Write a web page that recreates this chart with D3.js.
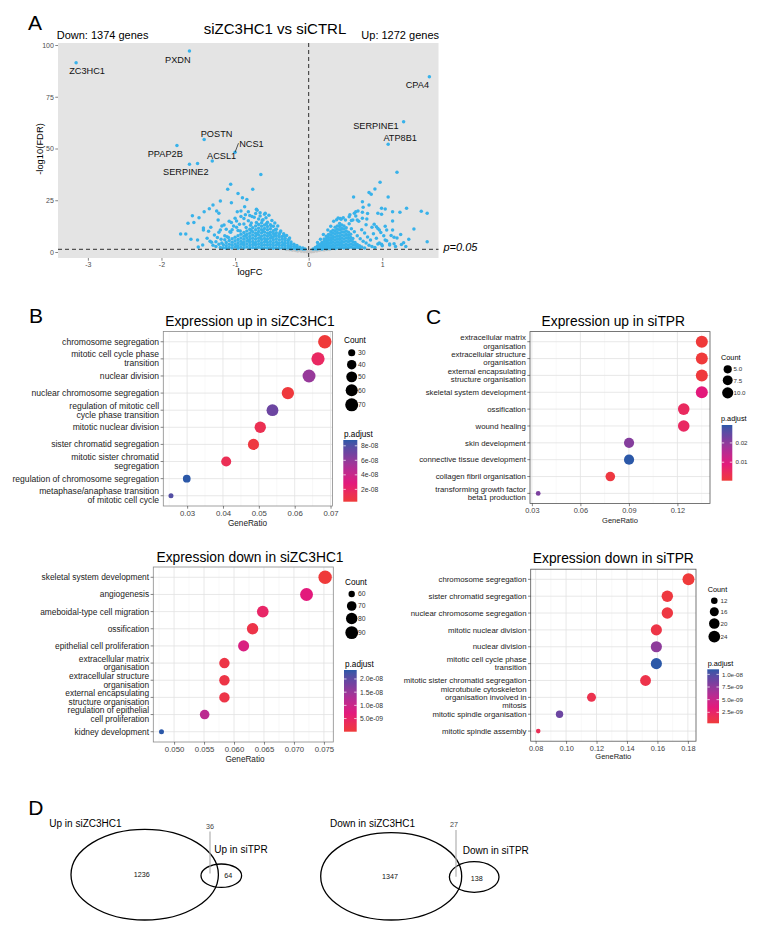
<!DOCTYPE html>
<html><head><meta charset="utf-8">
<script src="https://cdn.jsdelivr.net/npm/d3@7"></script>
<style>body{margin:0;background:#fff}svg{display:block}</style>
</head><body><svg id="fig" width="762" height="934"></svg>
<script>
// ================= DATA =================
// ---- Panel A : volcano ----
const volcanoTitle = "siZC3HC1 vs siCTRL";
const downText = "Down: 1374 genes", upText = "Up: 1272 genes";
const volcanoXTicks = [-3, -2, -1, 0, 1];
const volcanoYTicks = [0, 25, 50, 75, 100];
const volcanoXDomain = [-3.406, 1.764];
const volcanoYDomain = [-2.9, 100.97];
const fdrThreshold = 1.3; // -log10(0.05)
const labeledGenes = ["ZC3HC1","PXDN","CPA4","SERPINE1","ATP8B1","POSTN","NCS1","ACSL1","PPAP2B","SERPINE2"];
const labeledLogFC = [-3.16,-1.62,1.64,1.29,1.08,-1.42,-1.00,-1.31,-1.79,-1.62];
const labeledFDR   = [91.4,97.1,84.7,62.9,52.0,54.3,48.2,44.0,51.5,42.4];
const downGenes = [
[-1.51,42.8],[-0.65,37.5],[-1.06,32.7],[-1.10,30.3],[-0.96,28.3],[-0.76,30.3],[-0.90,26.2],[-0.84,25.4],[-1.20,24.6],[-1.05,23.8],[-1.30,22.7],[-1.35,20.9],[-1.42,19.5],[-1.25,19.8],[-1.22,18.7],[-0.97,19.5],[-1.58,17.5],[-1.49,16.6],[-1.56,14.2],[-1.64,13.9],[-1.43,11.6],[-1.43,10.6],[-1.36,10.0],[-1.33,11.9],[-1.74,8.7],[-1.67,8.7],[-1.60,6.1],[-1.51,5.8],[-1.32,4.7],[-1.19,6.1],[-1.23,15.5],[-1.15,13.0],[-1.20,10.6],[-1.05,14.2],[-1.00,16.3],[-0.92,17.1],[-0.87,21.9],[-0.82,19.5],[-0.71,20.6],[-0.66,19.0],[-0.59,18.7],[-0.77,17.1],[-1.07,9.8],[-0.98,11.9],[-0.88,13.5],[-1.11,7.4],
[-1.28,8.2],[-1.22,9.5],[-1.18,12.5],[-1.12,11.0],[-1.08,14.8],[-1.02,12.6],[-0.98,15.0],[-0.94,13.4],[-0.92,19.8],[-0.88,16.2],[-0.86,18.0],[-0.82,15.1],[-0.80,17.6],[-0.78,14.0],[-0.74,16.8],[-0.72,18.6],[-0.70,20.2],[-0.68,16.0],[-0.66,17.4],[-0.62,15.6],[-0.60,18.2],[-0.58,16.6],[-0.56,14.4],[-0.54,17.8],[-0.52,13.2],[-0.50,15.2],[-0.48,12.4],[-0.46,14.0],[-0.44,11.0],[-0.42,12.6],[-0.38,10.2],[-0.34,8.8],[-0.30,8.0],[-0.26,6.8],[-1.38,6.6],[-1.30,3.2],[-1.26,2.6],[-1.22,3.8],[-1.20,2.2],[-1.44,3.4],[-1.50,2.4],[-1.06,9.6],[-1.14,7.8],[-1.04,10.8],[-0.96,10.4],[-1.24,7.0],[-1.34,5.2],
[-1.16,2.0],[-1.16,3.5],[-1.12,1.8],[-1.12,3.0],[-1.12,4.6],[-1.08,2.2],[-1.08,3.8],[-1.08,5.5],
[-1.04,1.9],[-1.04,3.2],[-1.04,4.7],[-1.04,6.4],[-1.00,2.4],[-1.00,3.9],[-1.00,5.4],[-1.00,7.1],
[-0.96,1.8],[-0.96,3.0],[-0.96,4.5],[-0.96,6.0],[-0.96,7.8],[-0.92,2.3],[-0.92,3.7],[-0.92,5.2],[-0.92,6.8],[-0.92,8.6],
[-0.88,1.9],[-0.88,3.2],[-0.88,4.6],[-0.88,6.1],[-0.88,7.6],[-0.88,9.4],[-0.84,2.4],[-0.84,3.9],[-0.84,5.3],[-0.84,6.9],[-0.84,8.4],[-0.84,10.2],
[-0.80,1.8],[-0.80,3.1],[-0.80,4.6],[-0.80,6.0],[-0.80,7.5],[-0.80,9.1],[-0.80,11.0],[-0.76,2.2],[-0.76,3.6],[-0.76,5.1],[-0.76,6.6],[-0.76,8.2],[-0.76,9.8],[-0.76,11.7],
[-0.72,1.9],[-0.72,3.2],[-0.72,4.6],[-0.72,6.1],[-0.72,7.6],[-0.72,9.1],[-0.72,10.7],[-0.72,12.5],[-0.68,2.3],[-0.68,3.7],[-0.68,5.2],[-0.68,6.7],[-0.68,8.3],[-0.68,9.9],[-0.68,11.5],[-0.68,13.3],
[-0.64,1.8],[-0.64,3.1],[-0.64,4.5],[-0.64,6.0],[-0.64,7.6],[-0.64,9.2],[-0.64,10.8],[-0.64,12.4],[-0.64,14.1],[-0.60,2.1],[-0.60,3.5],[-0.60,5.0],[-0.60,6.5],[-0.60,8.1],[-0.60,9.7],[-0.60,11.3],[-0.60,13.0],
[-0.56,1.9],[-0.56,3.2],[-0.56,4.6],[-0.56,6.1],[-0.56,7.6],[-0.56,9.1],[-0.56,10.7],[-0.56,12.3],[-0.52,2.2],[-0.52,3.6],[-0.52,5.1],[-0.52,6.6],[-0.52,8.1],[-0.52,9.6],[-0.52,11.2],
[-0.48,1.8],[-0.48,3.1],[-0.48,4.5],[-0.48,5.9],[-0.48,7.4],[-0.48,8.9],[-0.48,10.3],[-0.44,2.1],[-0.44,3.5],[-0.44,4.9],[-0.44,6.4],[-0.44,7.9],[-0.44,9.3],
[-0.40,1.8],[-0.40,3.1],[-0.40,4.4],[-0.40,5.8],[-0.40,7.2],[-0.40,8.5],[-0.36,2.0],[-0.36,3.3],[-0.36,4.7],[-0.36,6.1],[-0.36,7.5],
[-0.32,1.7],[-0.32,2.9],[-0.32,4.2],[-0.32,5.5],[-0.32,6.7],[-0.28,1.9],[-0.28,3.1],[-0.28,4.3],[-0.28,5.6],[-0.24,1.6],[-0.24,2.7],[-0.24,3.8],[-0.24,4.8],
[-0.20,1.8],[-0.20,2.8],[-0.20,3.8],[-0.16,1.5],[-0.16,2.4],[-0.16,3.1],[-0.12,1.6],[-0.12,2.3],[-0.08,1.4],[-0.08,1.9],[-0.05,1.5],
[-0.98,2.9],[-0.90,4.1],[-0.82,5.6],[-0.74,4.0],[-0.66,6.9],[-0.58,5.4],[-0.50,7.0],[-0.42,4.0],[-0.34,3.6],[-0.26,2.4],[-0.18,2.0],[-0.70,8.8],[-0.62,10.2],[-0.54,9.0],[-0.46,8.2],[-0.86,8.0],[-0.78,10.4],
[-1.18,4.3],[-1.14,5.9],[-1.26,5.0],[-1.09,7.0],[-0.93,10.1],[-0.85,11.8],[-0.79,12.9],[-0.71,14.2],[-0.63,15.3],[-0.57,13.8],[-0.51,12.6],[-0.45,10.9],[-0.39,9.4],[-0.33,7.8],[-0.27,6.1]
];
const upGenes = [
[1.20,38.5],[0.97,33.7],[0.90,30.4],[0.82,28.8],[0.85,27.9],[1.08,26.6],[0.61,26.6],[0.73,24.3],[0.82,22.7],[0.74,21.6],[0.99,21.1],[1.04,20.8],[1.14,19.5],[1.24,19.2],[1.33,21.1],[1.53,19.7],[1.61,18.7],[0.62,18.7],[0.64,19.4],[0.67,19.8],[0.73,19.2],[0.80,18.6],[0.94,18.7],[0.99,18.2],[0.43,16.2],[0.55,17.0],[0.60,15.5],[0.66,15.4],[0.73,16.3],[0.79,16.0],[1.14,15.0],[0.89,13.4],[0.92,12.2],[0.96,10.6],[1.06,10.6],[1.14,10.6],[1.43,11.1],[1.36,6.1],[1.29,4.5],[1.61,5.0],[1.25,8.5],[1.16,7.1],[1.10,3.9],[1.04,5.8],[0.99,3.7],[0.94,3.9],
[0.12,4.6],[0.16,6.2],[0.20,8.4],[0.26,10.6],[0.30,12.4],[0.34,14.8],[0.38,15.6],[0.40,16.4],[0.44,15.8],[0.47,16.6],[0.50,15.4],[0.55,13.6],[0.58,11.2],[0.62,9.8],[0.66,7.8],[0.70,6.4],[0.74,5.2],[0.78,4.4],[0.82,3.2],[0.86,2.6],[0.90,2.2],[0.80,7.2],[0.84,5.8],[0.88,8.8],[0.92,6.6],[0.96,4.4],[1.00,3.0],[0.94,11.4],[0.98,9.4],[1.02,7.8],[1.06,5.4],[1.10,3.4],[1.16,4.0],[1.20,6.8],[1.26,3.6],[1.04,12.4],[0.86,12.0],[0.78,13.2],[0.72,10.8],[0.68,14.8],[0.64,17.4],[0.56,18.0],[0.58,15.2],[1.12,8.0],[1.18,2.6],[1.32,2.6],[0.76,9.2],
[0.06,1.5],[0.09,1.6],[0.09,2.2],[0.12,1.5],[0.12,2.3],[0.12,3.0],[0.15,1.7],[0.15,2.6],[0.15,3.6],[0.18,1.5],[0.18,2.5],[0.18,3.5],[0.18,4.6],
[0.21,1.8],[0.21,2.9],[0.21,4.0],[0.21,5.2],[0.21,6.3],[0.24,1.6],[0.24,2.7],[0.24,3.9],[0.24,5.1],[0.24,6.4],[0.24,7.6],
[0.27,1.9],[0.27,3.1],[0.27,4.4],[0.27,5.7],[0.27,7.0],[0.27,8.4],[0.30,1.7],[0.30,2.9],[0.30,4.2],[0.30,5.5],[0.30,6.9],[0.30,8.3],[0.30,9.8],
[0.33,2.0],[0.33,3.3],[0.33,4.7],[0.33,6.1],[0.33,7.5],[0.33,9.0],[0.33,10.5],[0.36,1.7],[0.36,3.0],[0.36,4.4],[0.36,5.8],[0.36,7.3],[0.36,8.8],[0.36,10.3],[0.36,11.9],
[0.39,2.1],[0.39,3.5],[0.39,4.9],[0.39,6.4],[0.39,7.9],[0.39,9.4],[0.39,11.0],[0.39,12.6],[0.42,1.8],[0.42,3.1],[0.42,4.5],[0.42,6.0],[0.42,7.5],[0.42,9.1],[0.42,10.7],[0.42,12.3],[0.42,13.8],
[0.45,2.2],[0.45,3.6],[0.45,5.1],[0.45,6.6],[0.45,8.2],[0.45,9.8],[0.45,11.4],[0.45,13.0],[0.48,1.9],[0.48,3.3],[0.48,4.8],[0.48,6.3],[0.48,7.9],[0.48,9.5],[0.48,11.1],[0.48,12.6],
[0.51,2.3],[0.51,3.8],[0.51,5.3],[0.51,6.9],[0.51,8.5],[0.51,10.1],[0.51,11.7],[0.54,2.0],[0.54,3.4],[0.54,4.9],[0.54,6.5],[0.54,8.0],[0.54,9.6],
[0.57,2.4],[0.57,3.9],[0.57,5.5],[0.57,7.0],[0.57,8.6],[0.60,2.1],[0.60,3.5],[0.60,5.0],[0.60,6.5],[0.63,1.9],[0.63,3.2],[0.63,4.6],
[0.66,2.3],[0.66,3.6],[0.69,2.0],[0.69,3.0],[0.72,2.4],[0.76,1.9]
];
const nsGenes = [[-0.26,1.1],[-0.22,0.9],[-0.18,0.7],[-0.15,0.5],[-0.12,0.9],[-0.10,0.4],[-0.08,0.7],[-0.06,0.2],[-0.04,0.5],[-0.02,0.1],[0.00,0.05],[0.02,0.3],[0.04,0.1],[0.05,0.6],[0.07,0.3],[0.09,0.8],[0.11,0.5],[0.13,1.0],[0.15,0.8],[0.18,1.1],[0.21,1.0],[0.25,1.2],[-0.30,1.2],[0.28,1.15]];

// ---- Panel B (up in siZC3HC1) ----
const upZC3Terms = ["chromosome segregation","mitotic cell cycle phase\ntransition","nuclear division","nuclear chromosome segregation","regulation of mitotic cell\ncycle phase transition","mitotic nuclear division","sister chromatid segregation","mitotic sister chromatid\nsegregation","regulation of chromosome segregation","metaphase/anaphase transition\nof mitotic cell cycle"];
const upZC3Ratio = [0.0684,0.0665,0.0640,0.0581,0.0538,0.0504,0.0485,0.0409,0.0299,0.0255];
const upZC3Count = [74,72,69,63,58,54,52,44,32,27];
const upZC3Padj  = [3e-9,1.8e-8,5.8e-8,4e-9,7.1e-8,1.2e-8,5e-9,1.3e-8,8.8e-8,7.9e-8];
const upZC3XTicks = [0.03,0.04,0.05,0.06,0.07], upZC3XLabels = ["0.03","0.04","0.05","0.06","0.07"];
const upZC3SizeBreaks = [30,40,50,60,70], upZC3SizeLabels = ["30","40","50","60","70"];
const upZC3PBreaks = [2e-8,4e-8,6e-8,8e-8], upZC3PLabels = ["2e-08","4e-08","6e-08","8e-08"];

// ---- Panel C (up in siTPR) ----
const upTPRTerms = ["extracellular matrix\norganisation","extracellular structure\norganisation","external encapsulating\nstructure organisation","skeletal system development","ossification","wound healing","skin development","connective tissue development","collagen fibril organisation","transforming growth factor\nbeta1 production"];
const upTPRRatio = [0.1351,0.1351,0.1351,0.1351,0.1239,0.1239,0.0901,0.0901,0.0785,0.0339];
const upTPRCount = [12,12,12,12,11,11,8,8,7,3];
const upTPRPadj  = [0.0004,0.0005,0.0006,0.009,0.0052,0.0055,0.021,0.0293,0.0012,0.022];
const upTPRXTicks = [0.03,0.06,0.09,0.12], upTPRXLabels = ["0.03","0.06","0.09","0.12"];
const upTPRSizeBreaks = [5,7.5,10], upTPRSizeLabels = ["5.0","7.5","10.0"];
const upTPRPBreaks = [0.01,0.02], upTPRPLabels = ["0.01","0.02"];

// ---- Panel B lower (down in siZC3HC1) ----
const downZC3Terms = ["skeletal system development","angiogenesis","ameboidal-type cell migration","ossification","epithelial cell proliferation","extracellular matrix\norganisation","extracellular structure\norganisation","external encapsulating\nstructure organisation","regulation of epithelial\ncell proliferation","kidney development"];
const downZC3Ratio = [0.0752,0.0721,0.0648,0.0631,0.0616,0.0584,0.0584,0.0584,0.0551,0.0479];
const downZC3Count = [95,91,82,80,78,74,74,74,70,59];
const downZC3Padj  = [2e-11,7e-9,4.7e-9,1.5e-9,8.2e-9,1.2e-9,1.3e-9,1.4e-9,1.17e-8,2.34e-8];
const downZC3XTicks = [0.050,0.055,0.060,0.065,0.070,0.075], downZC3XLabels = ["0.050","0.055","0.060","0.065","0.070","0.075"];
const downZC3SizeBreaks = [60,70,80,90], downZC3SizeLabels = ["60","70","80","90"];
const downZC3PBreaks = [5e-9,1e-8,1.5e-8,2e-8], downZC3PLabels = ["5.0e-09","1.0e-08","1.5e-08","2.0e-08"];

// ---- Panel C lower (down in siTPR) ----
const downTPRTerms = ["chromosome segregation","sister chromatid segregation","nuclear chromosome segregation","mitotic nuclear division","nuclear division","mitotic cell cycle phase\ntransition","mitotic sister chromatid segregation","microtubule cytoskeleton\norganisation involved in\nmitosis","mitotic spindle organisation","mitotic spindle assembly"];
const downTPRRatio = [0.1804,0.1665,0.1665,0.1593,0.1593,0.1593,0.1522,0.1167,0.0957,0.0817];
const downTPRCount = [25,23,23,22,22,22,21,16,13,11];
const downTPRPadj  = [3.3e-10,6e-10,7e-10,9e-10,7.6e-9,1.1e-8,1.1e-9,1.3e-9,8.9e-9,1.6e-9];
const downTPRXTicks = [0.08,0.10,0.12,0.14,0.16,0.18], downTPRXLabels = ["0.08","0.10","0.12","0.14","0.16","0.18"];
const downTPRSizeBreaks = [12,16,20,24], downTPRSizeLabels = ["12","16","20","24"];
const downTPRPBreaks = [2.5e-9,5e-9,7.5e-9,1e-8], downTPRPLabels = ["2.5e-09","5.0e-09","7.5e-09","1.0e-08"];

// ---- Panel D (Venn) ----
const vennUpNames = ["Up in siZC3HC1","Up in siTPR"];
const vennUpCounts = [1236, 36, 64];
const vennDownNames = ["Down in siZC3HC1","Down in siTPR"];
const vennDownCounts = [1347, 27, 138];

// colour ramp for p.adjust (low -> high)
const padjRampT = [0, 0.3, 0.55, 0.78, 1];
const padjRampC = ["#EF3A3A", "#E3197C", "#B02E95", "#7142A0", "#2B58A8"];

// ================= DRAWING =================
const FONT = '"Liberation Sans", Arial, Helvetica, sans-serif';
const svg = d3.select("#fig").attr("font-family", FONT);
svg.append("rect").attr("width", 762).attr("height", 934).attr("fill", "#fff");
const defs = svg.append("defs");

function txt(x, y, s, size, opts = {}) {
  const t = svg.append("text").attr("x", x).attr("y", y).attr("font-size", size)
    .attr("fill", opts.fill || "#000").text(s);
  if (opts.anchor) t.attr("text-anchor", opts.anchor);
  if (opts.italic) t.attr("font-style", "italic");
  if (opts.rotate) t.attr("transform", `rotate(-90,${x},${y})`);
  return t;
}

// ---------- Panel A ----------
(function volcano() {
  const L = {left: 58, right: 438.5, top: 43, bottom: 258};
  const x = d3.scaleLinear().domain(volcanoXDomain).range([L.left, L.right]);
  const y = d3.scaleLinear().domain(volcanoYDomain).range([L.bottom, L.top]);
  const g = svg.append("g");
  g.append("rect").attr("x", L.left).attr("y", L.top).attr("width", L.right - L.left)
    .attr("height", L.bottom - L.top).attr("fill", "#E4E4E4");
  g.selectAll(null).data(nsGenes).join("circle").attr("cx", d => x(d[0])).attr("cy", d => y(d[1]))
    .attr("r", 1.75).attr("fill", "#C6C6C6");
  g.selectAll(null).data(downGenes.concat(upGenes)).join("circle").attr("cx", d => x(d[0])).attr("cy", d => y(d[1]))
    .attr("r", 1.75).attr("fill", "#38B2EA");
  g.selectAll(null).data(labeledGenes).join("circle").attr("cx", (d, i) => x(labeledLogFC[i]))
    .attr("cy", (d, i) => y(labeledFDR[i])).attr("r", 1.75).attr("fill", "#38B2EA");
  // dashed lines
  g.append("line").attr("x1", x(0)).attr("x2", x(0)).attr("y1", L.top).attr("y2", L.bottom)
    .attr("stroke", "#000").attr("stroke-width", 0.8).attr("stroke-dasharray", "4,3");
  g.append("line").attr("x1", L.left).attr("x2", L.right).attr("y1", y(fdrThreshold)).attr("y2", y(fdrThreshold))
    .attr("stroke", "#000").attr("stroke-width", 0.8).attr("stroke-dasharray", "4,3");
  // labels (offset from point, in px)
  const off = {ZC3HC1:[11,11.5], PXDN:[-11.6,11.7], CPA4:[-12,11], SERPINE1:[-27.7,7.3],
    ATP8B1:[12,-3.3], POSTN:[12.4,-3], NCS1:[16.4,-5.6], ACSL1:[9.4,-1.7],
    PPAP2B:[-11.7,11.4], SERPINE2:[-3.6,10.7]};
  labeledGenes.forEach((gname, i) => {
    const px = x(labeledLogFC[i]), py = y(labeledFDR[i]), o = off[gname];
    g.append("text").attr("x", px + o[0]).attr("y", py + o[1]).attr("text-anchor", "middle")
      .attr("font-size", 9.2).attr("fill", "#111").text(gname);
    if (gname === "NCS1") g.append("line").attr("x1", px).attr("y1", py).attr("x2", px + 3.4).attr("y2", py - 9)
      .attr("stroke", "#111").attr("stroke-width", 0.7);
  });
  // axes
  const ay = g.append("g").attr("transform", `translate(${L.left},0)`)
    .call(d3.axisLeft(y).tickValues(volcanoYTicks).tickFormat(v => String(v)).tickSize(2.7).tickPadding(1.5));
  const ax = g.append("g").attr("transform", `translate(0,${L.bottom})`)
    .call(d3.axisBottom(x).tickValues(volcanoXTicks).tickFormat(v => String(v)).tickSize(2.7).tickPadding(1.5));
  [ay, ax].forEach(a => {
    a.select(".domain").remove();
    a.selectAll("line").attr("stroke", "#333").attr("stroke-width", 0.6);
    a.selectAll("text").attr("font-size", 7).attr("fill", "#4d4d4d").attr("font-family", FONT);
  });
  txt(28, 30, "A", 21);
  txt(275, 33.5, volcanoTitle, 15, {anchor: "middle"});
  txt(56.7, 39.3, downText, 11);
  txt(439, 39.3, upText, 11, {anchor: "end"});
  txt(443.5, 251, "p=0.05", 11, {italic: true});
  txt(250, 275, "logFC", 9.4, {anchor: "middle"});
  txt(42.5, 149, "-log10(FDR)", 9.4, {anchor: "middle", rotate: true});
})();

// ---------- dot plots ----------
function dotPanel(d, L, gid) {
  const g = svg.append("g");
  const [lo, hi] = d3.extent(d.ratio), pad = (hi - lo) * 0.05;
  const x = d3.scaleLinear().domain([lo - pad, hi + pad]).range([L.left, L.right]);
  const y = d3.scalePoint().domain(d.terms).range([L.top, L.bottom]).padding(0.6);
  const step = d.xTicks[1] - d.xTicks[0];
  const minor = d.xTicks.map(t => t - step / 2).concat([d.xTicks[d.xTicks.length - 1] + step / 2])
    .filter(v => v > x.domain()[0] && v < x.domain()[1]);
  g.append("rect").attr("x", L.left).attr("y", L.top).attr("width", L.right - L.left)
    .attr("height", L.bottom - L.top).attr("fill", "#fff");
  g.selectAll(null).data(minor).join("line").attr("x1", v => x(v)).attr("x2", v => x(v))
    .attr("y1", L.top).attr("y2", L.bottom).attr("stroke", "#F1F1F1").attr("stroke-width", 0.5);
  g.selectAll(null).data(d.xTicks).join("line").attr("x1", v => x(v)).attr("x2", v => x(v))
    .attr("y1", L.top).attr("y2", L.bottom).attr("stroke", "#E2E2E2").attr("stroke-width", 0.8);
  g.selectAll(null).data(d.terms).join("line").attr("y1", t => y(t)).attr("y2", t => y(t))
    .attr("x1", L.left).attr("x2", L.right).attr("stroke", "#E2E2E2").attr("stroke-width", 0.8);
  g.append("rect").attr("x", L.left).attr("y", L.top).attr("width", L.right - L.left)
    .attr("height", L.bottom - L.top).attr("fill", "none").attr("stroke", L.border).attr("stroke-width", 0.8);
  // x axis
  const ax = g.append("g").attr("transform", `translate(0,${L.bottom})`)
    .call(d3.axisBottom(x).tickValues(d.xTicks).tickFormat((v, i) => d.xLabels[i]).tickSize(2.7).tickPadding(1.5));
  ax.select(".domain").remove();
  ax.selectAll("line").attr("stroke", "#333").attr("stroke-width", 0.6);
  ax.selectAll("text").attr("font-size", L.tickFont).attr("fill", "#444").attr("font-family", FONT);
  // y ticks and labels
  g.selectAll(null).data(d.terms).join("line").attr("x1", L.left - 2.7).attr("x2", L.left)
    .attr("y1", t => y(t)).attr("y2", t => y(t)).attr("stroke", "#333").attr("stroke-width", 0.6);
  d.terms.forEach(t => {
    const lines = t.split("\n"), n = lines.length;
    const te = g.append("text").attr("text-anchor", "end").attr("font-size", L.labFont).attr("fill", "#222");
    lines.forEach((s, k) => te.append("tspan").attr("x", L.left - 4.2)
      .attr("y", y(t) + (k - (n - 1) / 2) * L.lh + 0.35 * L.labFont).text(s));
  });
  // points
  const cmin = d3.min(d.count), cmax = d3.max(d.count);
  const r = d3.scaleSqrt().domain([0, cmax - cmin]).range(L.rRange);
  const [pmin, pmax] = d3.extent(d.padj);
  const col = d3.scaleLinear().domain(padjRampT.map(t => pmin + t * (pmax - pmin))).range(padjRampC)
    .interpolate(d3.interpolateLab);
  g.selectAll(null).data(d.terms).join("circle").attr("cx", (t, i) => x(d.ratio[i])).attr("cy", t => y(t))
    .attr("r", (t, i) => r(d.count[i] - cmin)).attr("fill", (t, i) => col(d.padj[i]));
  // titles
  g.append("text").attr("x", L.titleX).attr("y", L.titleY).attr("text-anchor", "middle")
    .attr("font-size", 13.8).text(d.title);
  g.append("text").attr("x", L.xlabX).attr("y", L.xlabY).attr("text-anchor", "middle")
    .attr("font-size", L.xlabFont).attr("fill", "#222").text("GeneRatio");
  // size legend
  g.append("text").attr("x", L.legX).attr("y", L.countY).attr("font-size", L.legFont).text("Count");
  let yy = L.dotY0; const ys = [];
  d.sizeBreaks.forEach((b, i) => {
    if (i > 0) yy += Math.max(L.minStep, r(d.sizeBreaks[i - 1] - cmin) + r(b - cmin) + 2);
    ys.push(yy);
  });
  g.selectAll(null).data(d.sizeBreaks).join("circle").attr("cx", L.dotX).attr("cy", (b, i) => ys[i])
    .attr("r", b => r(b - cmin)).attr("fill", "#000");
  g.selectAll(null).data(d.sizeLabels).join("text").attr("x", L.dotLabX).attr("y", (s, i) => ys[i] + 0.35 * L.legLabFont)
    .attr("font-size", L.legLabFont).attr("fill", "#333").text(s => s);
  // colour bar
  g.append("text").attr("x", L.legX).attr("y", L.pY).attr("font-size", L.legFont).text("p.adjust");
  const grad = defs.append("linearGradient").attr("id", gid).attr("x1", 0).attr("y1", 1).attr("x2", 0).attr("y2", 0);
  d3.range(0, 1.0001, 0.05).forEach(t => grad.append("stop").attr("offset", t).attr("stop-color", col(pmin + t * (pmax - pmin))));
  g.append("rect").attr("x", L.barX).attr("y", L.barY).attr("width", L.barW).attr("height", L.barH)
    .attr("fill", `url(#${gid})`);
  const cb = d3.scaleLinear().domain([pmin, pmax]).range([L.barY + L.barH, L.barY]);
  d.pBreaks.forEach((v, i) => {
    [[L.barX, L.barX + 2.5], [L.barX + L.barW - 2.5, L.barX + L.barW]].forEach(([a, b]) =>
      g.append("line").attr("x1", a).attr("x2", b).attr("y1", cb(v)).attr("y2", cb(v)).attr("stroke", "#fff").attr("stroke-width", 0.7));
    g.append("text").attr("x", L.barLabX).attr("y", cb(v) + 0.35 * L.legLabFont).attr("font-size", L.legLabFont)
      .attr("fill", "#333").text(d.pLabels[i]);
  });
}

dotPanel({terms: upZC3Terms, ratio: upZC3Ratio, count: upZC3Count, padj: upZC3Padj, xTicks: upZC3XTicks, xLabels: upZC3XLabels,
  sizeBreaks: upZC3SizeBreaks, sizeLabels: upZC3SizeLabels, pBreaks: upZC3PBreaks, pLabels: upZC3PLabels, title: "Expression up in siZC3HC1"},
  {left: 163.3, right: 332.5, top: 331.5, bottom: 506, border: "#8a8a8a", tickFont: 7.8, labFont: 8.6, lh: 9.0,
   titleX: 250, titleY: 326, xlabX: 247.5, xlabY: 526, xlabFont: 8.2, rRange: [2.5, 6.7],
   legX: 344, countY: 342.5, dotX: 351.7, dotY0: 352.7, dotLabX: 358, minStep: 12, legFont: 8.2, legLabFont: 6.8,
   pY: 436.5, barX: 343.3, barY: 440, barW: 14, barH: 61.7, barLabX: 361}, "gB1");

dotPanel({terms: upTPRTerms, ratio: upTPRRatio, count: upTPRCount, padj: upTPRPadj, xTicks: upTPRXTicks, xLabels: upTPRXLabels,
  sizeBreaks: upTPRSizeBreaks, sizeLabels: upTPRSizeLabels, pBreaks: upTPRPBreaks, pLabels: upTPRPLabels, title: "Expression up in siTPR"},
  {left: 530, right: 710, top: 331.6, bottom: 503.5, border: "#555", tickFont: 7.4, labFont: 7.8, lh: 8.2,
   titleX: 613.3, titleY: 326, xlabX: 620, xlabY: 523, xlabFont: 7.5, rRange: [2.4, 6.0],
   legX: 721, countY: 360, dotX: 727.7, dotY0: 369.3, dotLabX: 733.5, minStep: 11, legFont: 7.3, legLabFont: 6.2,
   pY: 421.3, barX: 721.7, barY: 425, barW: 10.6, barH: 55.7, barLabX: 735.5}, "gC1");

dotPanel({terms: downZC3Terms, ratio: downZC3Ratio, count: downZC3Count, padj: downZC3Padj, xTicks: downZC3XTicks, xLabels: downZC3XLabels,
  sizeBreaks: downZC3SizeBreaks, sizeLabels: downZC3SizeLabels, pBreaks: downZC3PBreaks, pLabels: downZC3PLabels, title: "Expression down in siZC3HC1"},
  {left: 153.3, right: 333.3, top: 567, bottom: 742, border: "#8a8a8a", tickFont: 7.8, labFont: 8.4, lh: 8.8,
   titleX: 250, titleY: 561.7, xlabX: 245, xlabY: 761.5, xlabFont: 8.2, rRange: [2.5, 6.7],
   legX: 345, countY: 584.5, dotX: 351.7, dotY0: 594, dotLabX: 358, minStep: 12, legFont: 8.2, legLabFont: 6.8,
   pY: 666.5, barX: 344, barY: 670, barW: 12.7, barH: 61.7, barLabX: 360}, "gB2");

dotPanel({terms: downTPRTerms, ratio: downTPRRatio, count: downTPRCount, padj: downTPRPadj, xTicks: downTPRXTicks, xLabels: downTPRXLabels,
  sizeBreaks: downTPRSizeBreaks, sizeLabels: downTPRSizeLabels, pBreaks: downTPRPBreaks, pLabels: downTPRPLabels, title: "Expression down in siTPR"},
  {left: 530.7, right: 696, top: 569.2, bottom: 741.2, border: "#555", tickFont: 7.4, labFont: 7.8, lh: 8.2,
   titleX: 613.3, titleY: 563.3, xlabX: 613.3, xlabY: 758.5, xlabFont: 7.5, rRange: [2.3, 6.0],
   legX: 707.7, countY: 592, dotX: 714.3, dotY0: 600.7, dotLabX: 720.5, minStep: 11, legFont: 7.3, legLabFont: 6.2,
   pY: 665.5, barX: 707.3, barY: 669.3, barW: 11.7, barH: 54, barLabX: 722}, "gC2");

txt(29, 323.3, "B", 21);
txt(426, 323.5, "C", 21);

// ---------- Panel D : Venn ----------
function venn(names, counts, V) {
  const g = svg.append("g");
  g.append("ellipse").attr("cx", V.big[0]).attr("cy", V.big[1]).attr("rx", V.big[2]).attr("ry", V.big[3])
    .attr("fill", "none").attr("stroke", "#000").attr("stroke-width", 1.3);
  g.append("ellipse").attr("cx", V.small[0]).attr("cy", V.small[1]).attr("rx", V.small[2]).attr("ry", V.small[3])
    .attr("fill", "none").attr("stroke", "#000").attr("stroke-width", 1.3);
  g.append("line").attr("x1", V.lead[0]).attr("x2", V.lead[0]).attr("y1", V.lead[1]).attr("y2", V.lead[2])
    .attr("stroke", "#aaa").attr("stroke-width", 1.1);
  g.append("text").attr("x", V.name1[0]).attr("y", V.name1[1]).attr("font-size", 10).text(names[0]);
  g.append("text").attr("x", V.name2[0]).attr("y", V.name2[1]).attr("font-size", 10).text(names[1]);
  [V.c1, V.c12, V.c2].forEach((p, i) => g.append("text").attr("x", p[0]).attr("y", p[1]).attr("text-anchor", "middle")
    .attr("font-size", 7.2).attr("fill", i === 1 ? "#444" : "#111").text(counts[i]));
}
venn(vennUpNames, vennUpCounts, {big: [144.7, 874.7, 73.7, 45.3], small: [221.3, 875.7, 20.3, 11.7], lead: [210, 831.5, 873.5],
  name1: [49.3, 827], name2: [214.3, 853.3], c1: [141.7, 876.5], c12: [210, 829], c2: [228.3, 877.5]});
venn(vennDownNames, vennDownCounts, {big: [391.2, 876.3, 70.5, 43.7], small: [474.2, 877, 24.8, 15.3], lead: [456, 830, 876.7],
  name1: [330, 826.7], name2: [462.7, 854], c1: [390, 878.5], c12: [454, 826.5], c2: [476.7, 880.8]});
txt(28.3, 815, "D", 21);
</script></body></html>
